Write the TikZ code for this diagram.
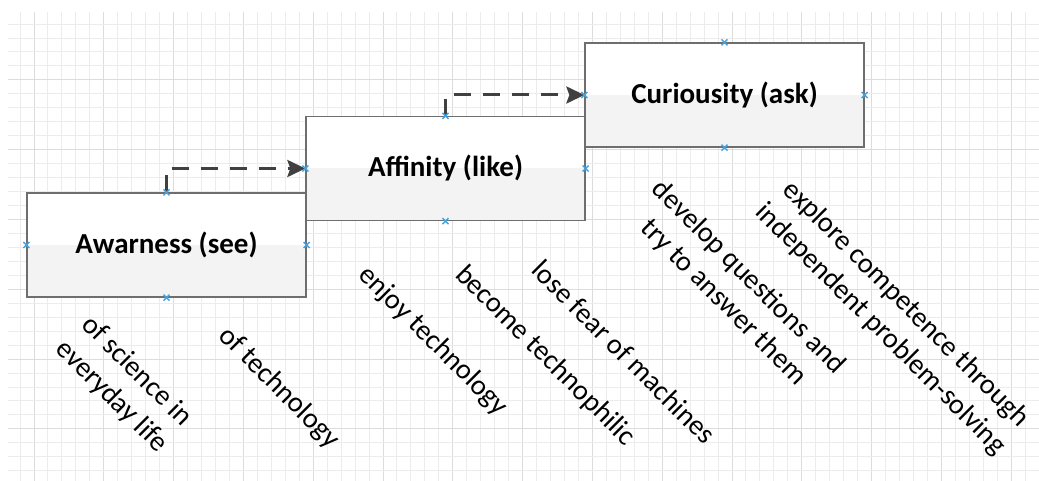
\documentclass[tikz,border=0pt]{standalone}
\usepackage{fontspec}
\setmainfont{Carlito}
\usetikzlibrary{arrows.meta,calc}
\definecolor{gridminor}{HTML}{ECECEC}
\definecolor{gridmajor}{HTML}{DCDCDC}
\definecolor{boxline}{HTML}{6E6E6E}
\definecolor{boxgray}{HTML}{F3F3F3}
\definecolor{arrowcol}{HTML}{404040}
\definecolor{markblue}{HTML}{45A2E0}
\tikzset{
  stagebox/.style={draw=boxline, line width=1.3pt, fill=white,
    minimum width=279pt, minimum height=104pt, inner sep=0pt,
    font=\fontsize{29}{34}\selectfont\bfseries,
    path picture={\fill[boxgray] (path picture bounding box.west) rectangle (path picture bounding box.south east);}},
  steplabel/.style={rotate=-45, align=center, inner sep=0pt,
    font=\fontsize{28.5}{35.5}\selectfont},
  flowarrow/.style={draw=arrowcol, line width=3pt, dash pattern=on 17pt off 12pt,
    -{Stealth[length=18pt,width=17pt,inset=3pt]}},
  xmark/.style={draw=markblue, line width=1.3pt}
}
\newcommand{\xmk}[1]{\draw[xmark] ($(#1)+(-3,-3)$) -- ($(#1)+(3,3)$) ($(#1)+(-3,3)$) -- ($(#1)+(3,-3)$);}
\begin{document}
\begin{tikzpicture}[x=1pt,y=-1pt]
\useasboundingbox (0,0) rectangle (1039,481);
\fill[white] (0,0) rectangle (1039,481);
% grid
\foreach \i in {0,...,73} {
  \pgfmathtruncatemacro{\m}{mod(\i,5)}
  \ifnum\m=1
    \draw[gridmajor, line width=0.9pt] ({20+13.96*\i},12) -- ({20+13.96*\i},481);
  \else
    \draw[gridminor, line width=0.9pt] ({20+13.96*\i},12) -- ({20+13.96*\i},481);
  \fi
}
\foreach \j in {0,...,32} {
  \pgfmathtruncatemacro{\m}{mod(\j,5)}
  \ifnum\m=4
    \draw[gridmajor, line width=0.9pt] (8,{24+13.96*\j}) -- (1039,{24+13.96*\j});
  \else
    \draw[gridminor, line width=0.9pt] (8,{24+13.96*\j}) -- (1039,{24+13.96*\j});
  \fi
}
% boxes
\node[stagebox] (see) at (166.5,245) {Awarness (see)};
\node[stagebox] (like) at (445.5,168.5) {Affinity (like)};
\node[stagebox] (ask) at (724.5,95) {Curiousity (ask)};
% arrows
\draw[flowarrow] (see.north) |- (like.west);
\draw[flowarrow] (like.north) |- (ask.west);
% markers
\foreach \b in {see,like,ask} {
  \foreach \a in {north,south,east,west} {
    \xmk{\b.\a}
  }
}
% labels
\node[steplabel] (l1) at (124,384) {of science in\\everyday life};
\node[steplabel] (l2) at (279,388) {of technology};
\node[steplabel] (l3) at (433,341) {enjoy technology};
\node[steplabel] (l4) at (545,356) {become technophilic};
\node[steplabel] (l5) at (624,352) {lose fear of machines};
\node[steplabel] (l6) at (736,290) {develop questions and\\try to answer them};
\node[steplabel] (l7) at (893,317) {explore competence through\\independent problem-solving};
\end{tikzpicture}
\end{document}
